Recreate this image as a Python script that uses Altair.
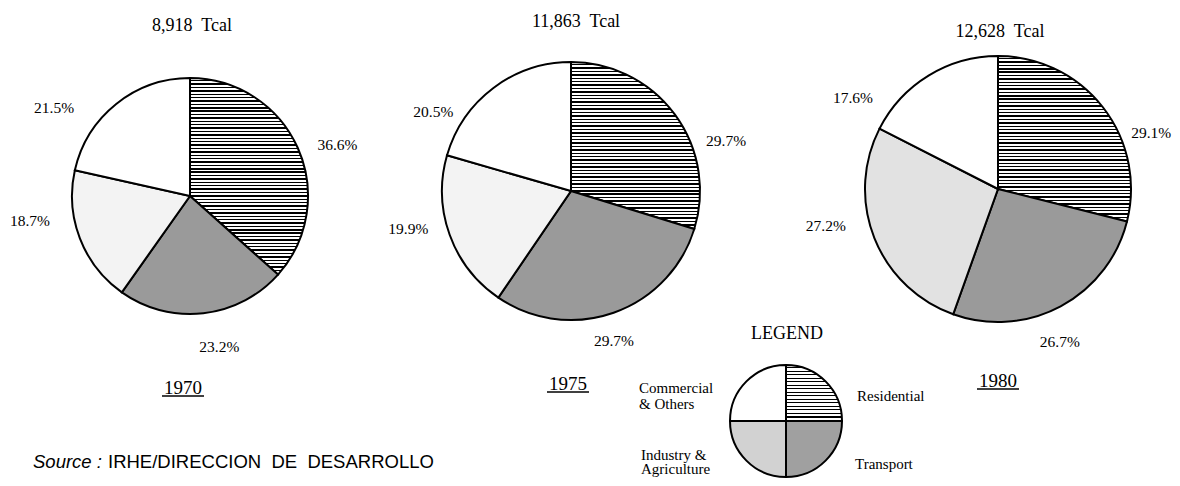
import math
import altair as alt
import pandas as pd

# ---------------- data ----------------
categories = ["Residential", "Transport", "Industry & Agriculture", "Commercial & Others"]
years = ["1970", "1975", "1980"]
totals_tcal = [8918, 11863, 12628]
shares_1970 = [36.6, 23.2, 18.7, 21.5]
shares_1975 = [29.7, 29.7, 19.9, 20.5]
shares_1980 = [29.1, 26.7, 27.2, 17.6]
legend_shares = [1, 1, 1, 1]
legend_title = "LEGEND"
legend_lines = {
    "Residential": ["Residential"],
    "Transport": ["Transport"],
    "Industry & Agriculture": ["Industry &", "Agriculture"],
    "Commercial & Others": ["Commercial", "& Others"],
}
source_label = "Source :"
source_text = "IRHE/DIRECCION\u00a0 DE\u00a0 DESARROLLO"

# ---------------- layout / style (page px, minus the 8px body margin) ----------------
M = 8
W, H = 1180 - 2 * M, 486 - 2 * M
SERIF = "Liberation Serif"

# label anchors: (angle clockwise from north in degrees, distance from centre in px)
pie_layout = {
    "1970": dict(cx=190, cy=196, r=118, title=(192, 26), year=(183, 388),
                 anchors=[(71, 156), (169, 154), (261, 162), (303, 162)], ind_fill="#f3f3f3"),
    "1975": dict(cx=571, cy=191, r=129, title=(576, 22), year=(568, 384),
                 anchors=[(72, 163), (164, 156), (257, 167), (300, 159)], ind_fill="#f3f3f3"),
    "1980": dict(cx=998, cy=189, r=133, title=(1000, 32), year=(998, 381),
                 anchors=[(70, 163), (158, 165), (258, 176), (302, 171)], ind_fill="#e2e2e2"),
}
legend_layout = dict(cx=786, cy=421, r=56, title=(787, 334))
legend_text_pos = {
    "Commercial & Others": (639, 393, 16),
    "Industry & Agriculture": (641, 460, 14),
    "Residential": (857, 401, 14),
    "Transport": (855, 469, 14),
}

theta_scale = alt.Scale(domain=[0, 1], range=[0, 2 * math.pi])
radius_scale = alt.Scale(type="linear", domain=[0, 400], range=[0, 400], zero=True)


def stripes(n, dark=0.42):
    stops = []
    for k in range(n):
        a = k / n
        b = (k + 1 - dark) / n
        c = (k + 1) / n
        stops += [
            {"offset": a, "color": "white"},
            {"offset": b, "color": "white"},
            {"offset": b, "color": "black"},
            {"offset": c, "color": "black"},
        ]
    return {"gradient": "linear", "x1": 0, "y1": 0, "x2": 0, "y2": 1, "stops": stops}


def stripe_count(frac, r, period=3.4):
    a = 2 * math.pi * frac
    if a <= math.pi / 2:
        h = r
    elif a <= math.pi:
        h = r * (1 - math.cos(a))
    else:
        h = 2 * r
    return max(4, int(round(h / period)))


def pie(values, cx, cy, r, fills):
    df = pd.DataFrame({"category": categories, "order": list(range(len(categories))), "value": values})
    base = (
        alt.Chart(df)
        .transform_window(cum="sum(value)", sort=[alt.SortField("order")], frame=[None, 0])
        .transform_joinaggregate(total="sum(value)")
        .transform_calculate(
            start="(datum.cum - datum.value) / datum.total",
            end="datum.cum / datum.total",
        )
    )
    layers = []
    for cat, fill in zip(categories, fills):
        layers.append(
            base.transform_filter(alt.datum.category == cat)
            .mark_arc(radius=r, stroke="black", strokeWidth=2, fill=fill)
            .encode(
                theta=alt.Theta("start:Q", scale=theta_scale, stack=None),
                theta2="end:Q",
                x=alt.value(cx - M),
                y=alt.value(cy - M),
            )
        )
    return layers


def text_at(txt, x, y, size, align="center", baseline="middle", font=SERIF, style="normal", weight="normal"):
    return (
        alt.Chart(pd.DataFrame({"t": [txt]}))
        .mark_text(font=font, fontSize=size, align=align, baseline=baseline,
                   fontStyle=style, fontWeight=weight, color="black")
        .encode(text="t:N", x=alt.value(x - M), y=alt.value(y - M))
    )


layers = []
all_shares = [shares_1970, shares_1975, shares_1980]
for yr, total, shares in zip(years, totals_tcal, all_shares):
    L = pie_layout[yr]
    res_frac = shares[0] / sum(shares)
    fills = [stripes(stripe_count(res_frac, L["r"])), "#9a9a9a", L["ind_fill"], "white"]
    layers += pie(shares, L["cx"], L["cy"], L["r"], fills)

    # percentage labels
    lab = pd.DataFrame({
        "category": categories,
        "value": shares,
        "pos": [a / 360 for a, _ in L["anchors"]],
        "dist": [d for _, d in L["anchors"]],
    })
    layers.append(
        alt.Chart(lab)
        .transform_calculate(label="format(datum.value, '.1f') + '%'")
        .mark_text(font=SERIF, fontSize=15.5, align="center", baseline="middle", color="black")
        .encode(
            theta=alt.Theta("pos:Q", scale=theta_scale, stack=None),
            radius=alt.Radius("dist:Q", scale=radius_scale),
            text="label:N",
            x=alt.value(L["cx"] - M),
            y=alt.value(L["cy"] - M),
        )
    )

    # total title
    tx, ty = L["title"]
    layers.append(text_at(f"{total:,}\u00a0 Tcal", tx, ty, 18))

    # year label + underline
    yx, yy = L["year"]
    layers.append(text_at(yr, yx, yy, 19))
    layers.append(
        alt.Chart(pd.DataFrame({"t": [yr]}))
        .mark_rule(color="black", strokeWidth=1.3)
        .encode(x=alt.value(yx - 21 - M), x2=alt.value(yx + 21 - M), y=alt.value(yy + 8 - M))
    )

# legend pie
LG = legend_layout
legend_fills = [stripes(16), "#a0a0a0", "#d2d2d2", "white"]
layers += pie(legend_shares, LG["cx"], LG["cy"], LG["r"], legend_fills)
layers.append(text_at(legend_title, LG["title"][0], LG["title"][1], 18))
for cat in categories:
    x0, y0, lh = legend_text_pos[cat]
    for i, line in enumerate(legend_lines[cat]):
        layers.append(text_at(line, x0, y0 + i * lh, 15, align="left", baseline="alphabetic"))

# source note
layers.append(text_at(source_label, 33, 468, 18.5, align="left", baseline="alphabetic",
                      font="Liberation Sans", style="italic"))
layers.append(text_at(source_text, 108, 468, 18.5, align="left", baseline="alphabetic",
                      font="Liberation Sans"))

chart = (
    alt.layer(*layers)
    .properties(width=W, height=H, padding=0, autosize=alt.AutoSizeParams(type="none"),
                background="white")
    .configure_view(stroke=None)
)

chart.save("out.html", embed_options={"renderer": "svg", "actions": False})
